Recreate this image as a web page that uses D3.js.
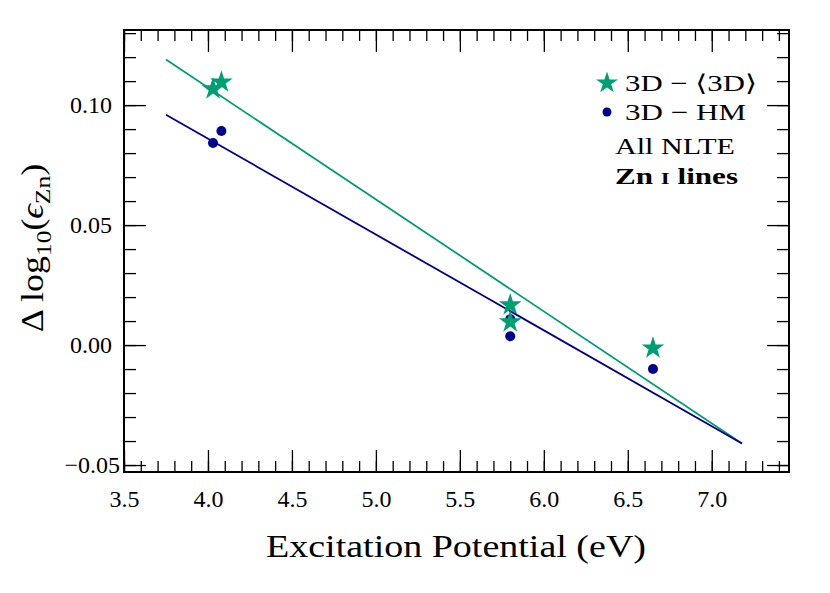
<!DOCTYPE html>
<html>
<head>
<meta charset="utf-8">
<script src="https://cdn.jsdelivr.net/npm/d3@7"></script>
<style>
  body { margin: 0; background: #fff; }
  svg text { font-family: 'Liberation Serif', 'DejaVu Serif', serif; }
</style>
</head>
<body>
<svg></svg>
<script>
// data
let starX = [4.03, 4.08, 5.80, 5.80, 6.65]
let starY = [0.1067, 0.1096, 0.0167, 0.0096, -0.0013]
let dotX = [4.03, 4.08, 5.80, 5.80, 6.65]
let dotY = [0.0842, 0.0892, 0.0108, 0.0037, -0.0100]
let fitX = [3.75, 7.18]
let fitStarY = [0.119, -0.041]
let fitDotY = [0.096, -0.041]
let xTicks = [3.5, 4.0, 4.5, 5.0, 5.5, 6.0, 6.5, 7.0]
let yTicks = [-0.05, 0.00, 0.05, 0.10]

let width = 830
let height = 593
let padLeft = 124, padRight = 789, padTop = 30, padBottom = 472

let serif = "'Liberation Serif', 'DejaVu Serif', serif"
let green = '#009e73'
let navy = '#00008b'

let svg = d3.select('svg').attr('width', width).attr('height', height)

let xScale = d3.scaleLinear().domain([3.5, 7.46]).range([padLeft, padRight])
let yScale = d3.scaleLinear().domain([-0.0529, 0.1313]).range([padBottom, padTop])

let xMinor = d3.range(35, 75).map(d => d / 10)
let yMinor = d3.range(-5, 14).map(d => d / 100)

let fmtY = (d) => d3.format('.2f')(d).replace('-', '\u2212')

let drawAxes = () => {
  // minor ticks
  svg.append('g').attr('transform', 'translate(0,' + padBottom + ')')
    .call(d3.axisBottom(xScale).tickValues(xMinor).tickSize(-11).tickFormat(''))
  svg.append('g').attr('transform', 'translate(0,' + padTop + ')')
    .call(d3.axisTop(xScale).tickValues(xMinor).tickSize(-11).tickFormat(''))
  svg.append('g').attr('transform', 'translate(' + padLeft + ',0)')
    .call(d3.axisLeft(yScale).tickValues(yMinor).tickSize(-12).tickFormat(''))
  svg.append('g').attr('transform', 'translate(' + padRight + ',0)')
    .call(d3.axisRight(yScale).tickValues(yMinor).tickSize(-12).tickFormat(''))

  // major ticks
  svg.append('g').attr('class', 'xaxis').attr('transform', 'translate(0,' + padBottom + ')')
    .call(d3.axisBottom(xScale).tickValues(xTicks).tickSize(-22).tickPadding(18).tickFormat(d3.format('.1f')))
    .attr('font-size', 24).attr('font-family', serif)
  svg.append('g').attr('transform', 'translate(0,' + padTop + ')')
    .call(d3.axisTop(xScale).tickValues(xTicks).tickSize(-22).tickFormat(''))
  svg.append('g').attr('class', 'yaxis').attr('transform', 'translate(' + padLeft + ',0)')
    .call(d3.axisLeft(yScale).tickValues(yTicks).tickSize(-22).tickPadding(12).tickFormat(fmtY))
    .attr('font-size', 24).attr('font-family', serif)
  svg.append('g').attr('transform', 'translate(' + padRight + ',0)')
    .call(d3.axisRight(yScale).tickValues(yTicks).tickSize(-22).tickFormat(''))

  svg.selectAll('.domain').remove()
  svg.selectAll('.tick line').attr('stroke', '#000').attr('stroke-width', 1.3)
  svg.selectAll('.tick text').attr('fill', '#000')
  // the negative label sits closer to the spine in the original
  svg.selectAll('.yaxis .tick text').filter(d => d < 0).attr('dx', 8)

  svg.append('rect')
    .attr('x', padLeft).attr('y', padTop)
    .attr('width', padRight - padLeft).attr('height', padBottom - padTop)
    .attr('fill', 'none').attr('stroke', '#000').attr('stroke-width', 2)

  svg.append('text')
    .attr('x', 456).attr('y', 557)
    .attr('text-anchor', 'middle')
    .attr('textLength', 380).attr('lengthAdjust', 'spacingAndGlyphs')
    .style('font-size', '31px')
    .text('Excitation Potential (eV)')

  let yl = svg.append('text')
    .attr('transform', 'translate(43,248) rotate(-90) scale(1.16,1)')
    .attr('text-anchor', 'middle')
    .style('font-size', '31px')
  yl.append('tspan').text('\u0394 log')
  yl.append('tspan').attr('dy', 8).style('font-size', '22px').text('10')
  yl.append('tspan').attr('dy', -8).text('(')
  yl.append('tspan').style('font-style', 'italic').text('\u03f5')
  yl.append('tspan').attr('dy', 7).style('font-size', '22px').text('Zn')
  yl.append('tspan').attr('dy', -7).text(')')
}

let drawData = () => {
  let line = d3.line().x(d => xScale(d[0])).y(d => yScale(d[1]))
  svg.append('path')
    .attr('d', line(d3.zip(fitX, fitStarY)))
    .attr('fill', 'none').attr('stroke', green).attr('stroke-width', 1.8)
  svg.append('path')
    .attr('d', line(d3.zip(fitX, fitDotY)))
    .attr('fill', 'none').attr('stroke', navy).attr('stroke-width', 1.8)

  let star = d3.symbol().type(d3.symbolStar).size(160)

  svg.selectAll('.dot')
    .data(d3.zip(dotX, dotY))
    .enter()
    .append('circle')
    .attr('class', 'dot')
    .attr('cx', d => xScale(d[0]))
    .attr('cy', d => yScale(d[1]))
    .attr('r', 5)
    .attr('fill', navy)

  svg.selectAll('.star')
    .data(d3.zip(starX, starY))
    .enter()
    .append('path')
    .attr('class', 'star')
    .attr('d', star)
    .attr('transform', d => 'translate(' + xScale(d[0]) + ',' + yScale(d[1]) + ')')
    .attr('fill', green)
}

let drawLegend = () => {
  let g = svg.append('g').style('font-size', '23px')
  g.append('path')
    .attr('d', d3.symbol().type(d3.symbolStar).size(150)())
    .attr('transform', 'translate(607,83)')
    .attr('fill', green)
  g.append('text').attr('x', 625).attr('y', 91)
    .attr('textLength', 132).attr('lengthAdjust', 'spacingAndGlyphs')
    .text('3D \u2212 \u27e83D\u27e9')
  g.append('circle').attr('cx', 607).attr('cy', 112).attr('r', 4.5).attr('fill', navy)
  g.append('text').attr('x', 625).attr('y', 120)
    .attr('textLength', 121).attr('lengthAdjust', 'spacingAndGlyphs')
    .text('3D \u2212 HM')
  g.append('text').attr('x', 615).attr('y', 154)
    .attr('textLength', 120).attr('lengthAdjust', 'spacingAndGlyphs')
    .text('All NLTE')
  let t = g.append('text').attr('x', 615).attr('y', 184).style('font-weight', 'bold')
    .attr('textLength', 123).attr('lengthAdjust', 'spacingAndGlyphs')
  t.append('tspan').text('Zn ')
  t.append('tspan').style('font-size', '17px').text('I')
  t.append('tspan').text(' lines')
}

drawAxes()
drawData()
drawLegend()
</script>
</body>
</html>
